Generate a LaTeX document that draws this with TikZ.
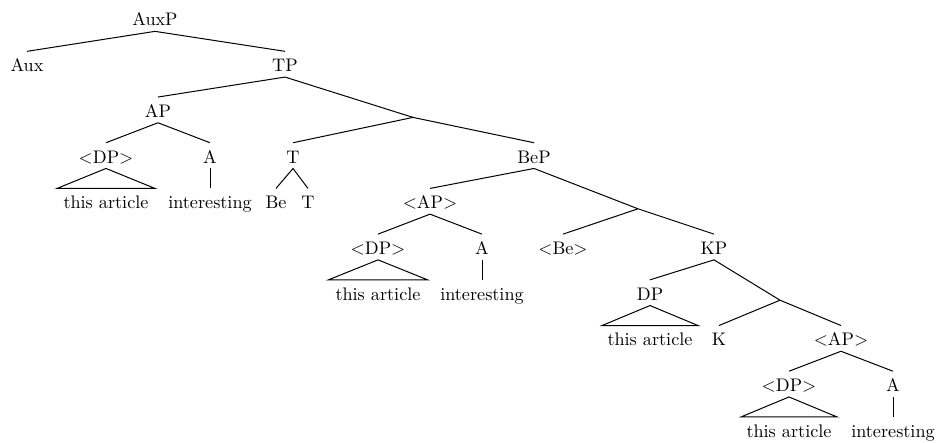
\documentclass[tikz,border=0pt]{standalone}
\usetikzlibrary{calc}
\begin{document}
\begin{tikzpicture}[x=0.55pt,y=-0.55pt,
  lbl/.style={anchor=base,inner sep=0pt,text height=11pt,text depth=2.75pt},
  br/.style={line width=0.55pt}]
\useasboundingbox (0,0) rectangle (937,443);
% levels
\def\La{26}\def\Lb{71.7}\def\Lc{117.4}\def\Ld{163.1}\def\Le{208.8}
\def\Lf{254.5}\def\Lg{300.2}\def\Lh{345.9}\def\Li{391.6}\def\Lj{437.3}
\node[lbl] (auxp) at (155,\La) {AuxP};
\node[lbl] (aux) at (27,\Lb) {Aux};
\node[lbl] (tp) at (285,\Lb) {TP};
\node[lbl] (ap1) at (158,\Lc) {AP};
\coordinate (u1) at (413,\Lc);
\node[lbl] (dp1) at (106,\Ld) {$<$DP$>$};
\node[lbl] (a1) at (210,\Ld) {A};
\node[lbl] (ta1) at (106,\Le) {this article};
\node[lbl] (in1) at (210,\Le) {interesting};
\node[lbl] (t1) at (293,\Ld) {T};
\node[lbl] (bep) at (534,\Ld) {BeP};
\node[lbl] (be) at (276,\Le) {Be};
\node[lbl] (t2) at (308,\Le) {T};
\node[lbl] (ap2) at (430,\Le) {$<$AP$>$};
\coordinate (u2) at (638,\Le);
\node[lbl] (dp2) at (378,\Lf) {$<$DP$>$};
\node[lbl] (a2) at (482,\Lf) {A};
\node[lbl] (ta2) at (378,\Lg) {this article};
\node[lbl] (in2) at (482,\Lg) {interesting};
\node[lbl] (beb) at (563,\Lf) {$<$Be$>$};
\node[lbl] (kp) at (714,\Lf) {KP};
\node[lbl] (dp3) at (650,\Lg) {DP};
\coordinate (u3) at (780,\Lg);
\node[lbl] (ta3) at (650,\Lh) {this article};
\node[lbl] (k) at (719,\Lh) {K};
\node[lbl] (ap3) at (841,\Lh) {$<$AP$>$};
\node[lbl] (dp4) at (789,\Li) {$<$DP$>$};
\node[lbl] (a3) at (893,\Li) {A};
\node[lbl] (ta4) at (789,\Lj) {this article};
\node[lbl] (in3) at (893,\Lj) {interesting};
% branches
\draw[br] (auxp.south) -- (aux.north);
\draw[br] (auxp.south) -- (tp.north);
\draw[br] (tp.south) -- (ap1.north);
\draw[br] (tp.south) -- (u1);
\draw[br] (ap1.south) -- (dp1.north);
\draw[br] (ap1.south) -- (a1.north);
\draw[br] (dp1.south) -- ($(ta1.north)+(-49,0)$) -- ($(ta1.north)+(49,0)$) -- cycle;
\draw[br] (a1.south) -- (in1.north);
\draw[br] (u1) -- (t1.north);
\draw[br] (u1) -- (bep.north);
\draw[br] (t1.south) -- (be.north);
\draw[br] (t1.south) -- (t2.north);
\draw[br] (bep.south) -- (ap2.north);
\draw[br] (bep.south) -- (u2);
\draw[br] (ap2.south) -- (dp2.north);
\draw[br] (ap2.south) -- (a2.north);
\draw[br] (dp2.south) -- ($(ta2.north)+(-49.5,0)$) -- ($(ta2.north)+(49.5,0)$) -- cycle;
\draw[br] (a2.south) -- (in2.north);
\draw[br] (u2) -- (beb.north);
\draw[br] (u2) -- (kp.north);
\draw[br] (kp.south) -- (dp3.north);
\draw[br] (kp.south) -- (u3);
\draw[br] (dp3.south) -- ($(ta3.north)+(-48,0)$) -- ($(ta3.north)+(48,0)$) -- cycle;
\draw[br] (u3) -- (k.north);
\draw[br] (u3) -- (ap3.north);
\draw[br] (ap3.south) -- (dp4.north);
\draw[br] (ap3.south) -- (a3.north);
\draw[br] (dp4.south) -- ($(ta4.north)+(-48,0)$) -- ($(ta4.north)+(48,0)$) -- cycle;
\draw[br] (a3.south) -- (in3.north);
\end{tikzpicture}
\end{document}
